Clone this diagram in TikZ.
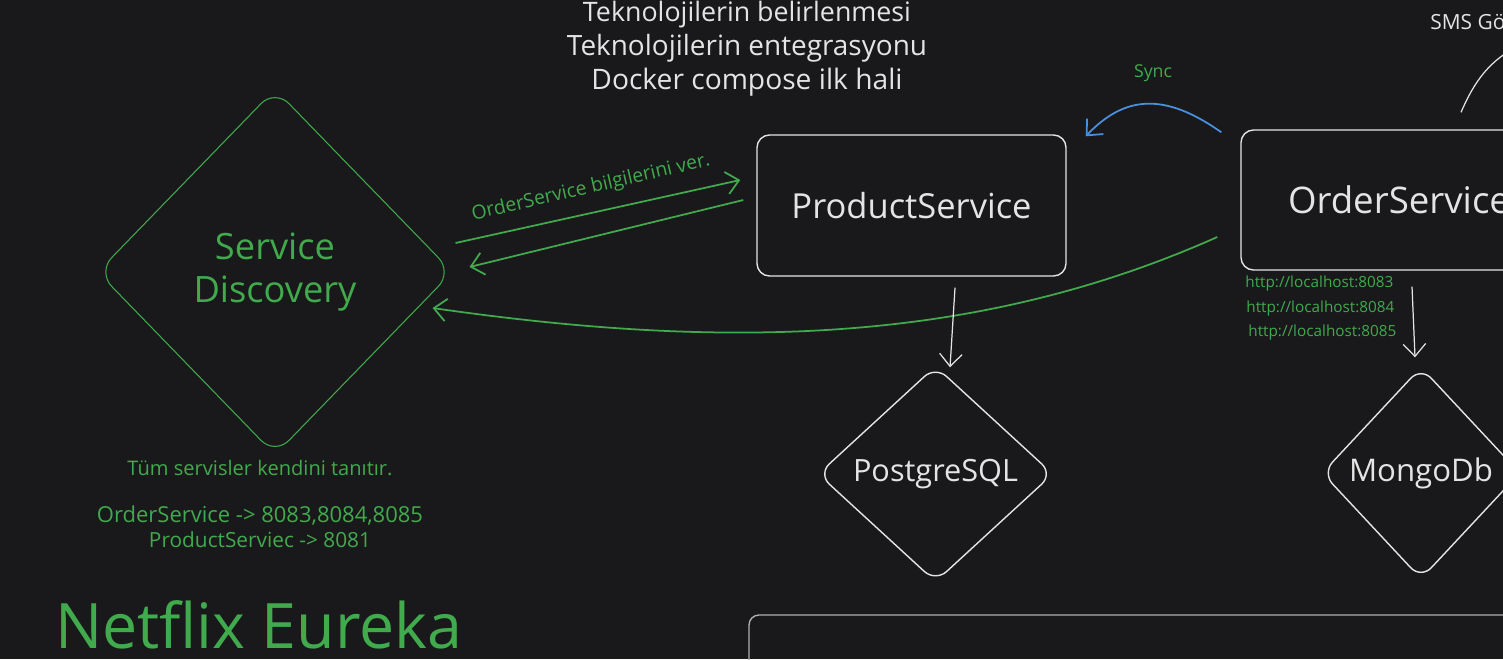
\documentclass[tikz,border=0pt]{standalone}
\usepackage{fontspec}
\setmainfont{Open Sans}
\usetikzlibrary{arrows.meta,shapes.geometric}
\definecolor{bgc}{RGB}{25,25,28}
\definecolor{wcol}{RGB}{228,228,228}
\definecolor{gcol}{RGB}{64,170,76}
\definecolor{bcol}{RGB}{74,144,220}
\definecolor{pcol}{RGB}{175,175,175}
\newcommand{\fw}[2]{\resizebox{#1}{!}{#2}}
\tikzset{
  box/.style={rectangle, draw=wcol, line width=0.8pt, rounded corners=0.25cm, inner sep=0pt},
  dia/.style={diamond, draw=wcol, line width=0.8pt, inner sep=0pt},
  gline/.style={draw=gcol, line width=1pt, -{Straight Barb[length=2.5mm,width=4.5mm]}},
  wline/.style={draw=wcol, line width=0.7pt, -{Straight Barb[length=2.5mm,width=4.5mm]}},
  bline/.style={draw=bcol, line width=1pt, -{Straight Barb[length=2.5mm,width=4.5mm]}},
  wtxt/.style={text=wcol, inner sep=0pt},
  gtxt/.style={text=gcol, inner sep=0pt},
}
\begin{document}
\begin{tikzpicture}
\fill[bgc] (0,0) rectangle (30.06,-13.18);
\useasboundingbox (0,0) rectangle (30.06,-13.18);
\begin{scope}
\clip (0,0) rectangle (30.06,-13.18);

% title lines
\node[wtxt] (t1) at (14.94,-0.3) {\fw{6.56cm}{Teknolojilerin belirlenmesi}};
\node[wtxt] (t2) at (14.94,-0.96) {\fw{7.2cm}{Teknolojilerin entegrasyonu}};
\node[wtxt] (t3) at (14.94,-1.64) {\fw{6.22cm}{Docker compose ilk hali}};

% main shapes
\node[dia, draw=gcol, line width=0.6pt, rounded corners=0.4cm, minimum width=7.1cm, minimum height=7.32cm, text=gcol, align=center] (sd) at (5.5,-5.44)
  {\fw{2.4cm}{Service}\\[0.28cm]\fw{3.26cm}{Discovery}};
\node[box, minimum width=6.18cm, minimum height=2.82cm, text=wcol] (ps) at (18.23,-4.11) {\fw{4.8cm}{ProductService}};
\node[box, minimum width=6.32cm, minimum height=2.8cm, text=wcol] (os) at (27.98,-4.0) {\fw{4.44cm}{OrderService}};
\node[dia, rounded corners=0.3cm, minimum width=4.7cm, minimum height=4.32cm, text=wcol] (pg) at (18.71,-9.48) {\fw{3.3cm}{PostgreSQL}};
\node[dia, rounded corners=0.3cm, minimum width=3.96cm, minimum height=4.24cm, text=wcol] (mg) at (28.42,-9.46) {\fw{2.88cm}{MongoDb}};
\node[box, draw=pcol, rounded corners=0.2cm, minimum width=19.02cm, minimum height=3.7cm] (panel) at (24.49,-14.15) {};

% connectors
\draw[gline] ([shift={(0.05,0.58)}]sd.east) -- ([shift={(-0.32,0.51)}]ps.west);
\draw[gline] ([shift={(-0.26,0.11)}]ps.west) -- ([shift={(0.33,0.1)}]sd.east);
\draw[gline] ([shift={(-0.46,-0.74)}]os.west) .. controls (19.5,-6.9) and (14.5,-7.0) .. ([shift={(-0.41,-0.72)}]sd.east);
\draw[bline] ([shift={(-0.38,-0.06)}]os.north west) .. controls (23.3,-1.85) and (22.5,-1.9) .. ([shift={(0.38,-0.04)}]ps.north east);
\draw[wline] ([shift={(0.87,-0.22)}]ps.south) -- ([shift={(0.29,-0.04)}]pg.north);
\draw[wline] ([shift={(0.26,-0.32)}]os.south) -- ([shift={(-0.12,0.18)}]mg.north);
\coordinate (smsend) at (30.4,-0.9);
\draw[wcol, line width=0.7pt] ([shift={(1.24,0.34)}]os.north) .. controls (29.5,-1.6) and (29.8,-1.2) .. (smsend);

% labels
\node[gtxt, rotate=13] (lbl) at (11.82,-3.76) {\fw{4.88cm}{OrderService bilgilerini ver.}};
\node[gtxt] (sync) at (23.06,-1.46) {\fw{0.76cm}{Sync}};
\node[wtxt, anchor=west] (sms) at (28.6,-0.44) {\fw{1.5cm}{SMS Gö}};
\node[gtxt, anchor=west] (h1) at (24.9,-5.68) {\fw{2.96cm}{http://localhost:8083}};
\node[gtxt, anchor=west] (h2) at (24.92,-6.18) {\fw{2.96cm}{http://localhost:8084}};
\node[gtxt, anchor=west] (h3) at (24.96,-6.66) {\fw{2.96cm}{http://localhost:8085}};
\node[gtxt] (n1) at (5.2,-9.36) {\fw{5.3cm}{Tüm servisler kendini tanıtır.}};
\node[gtxt] (n2) at (5.2,-10.32) {\fw{6.52cm}{OrderService -> 8083,8084,8085}};
\node[gtxt] (n3) at (5.2,-10.8) {\fw{4.44cm}{ProductServiec -> 8081}};
\node[gtxt, anchor=west] (eureka) at (1.1,-12.5) {\fw{8.14cm}{Netflix Eureka}};
\end{scope}
\end{tikzpicture}
\end{document}
